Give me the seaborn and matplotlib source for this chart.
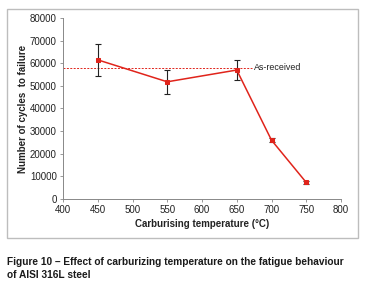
import matplotlib
matplotlib.use("Agg")
import matplotlib.pyplot as plt
from matplotlib.patches import Rectangle
import seaborn as sns
import numpy as np
import pandas as pd

# data
temps = [450, 550, 650, 700, 750]
cycles = [61500, 51800, 57000, 26000, 7300]
errors = [7000, 5300, 4500, 1000, 600]
as_received = 58000
as_received_end = 672

x_ticks = [400, 450, 500, 550, 600, 650, 700, 750, 800]
y_ticks = [0, 10000, 20000, 30000, 40000, 50000, 60000, 70000, 80000]

red = "#e0241b"

sns.set_style("white")
plt.rcParams['font.family'] = ['Liberation Sans', 'DejaVu Sans']

df = pd.DataFrame({"temp": temps, "cycles": cycles})

fig = plt.figure(figsize=(3.69, 3.00), dpi=100)
ax = fig.add_axes([63/369, 1-199/300, (341-63)/369, (199-18)/300])

# grey frame around the chart area
fig.patches.append(Rectangle((7/369, 1-238/300), (358-7)/369, (238-9)/300,
                             transform=fig.transFigure, fill=False,
                             edgecolor="#bdbdbd", linewidth=1.0))

ax.plot([400, as_received_end], [as_received, as_received], color=red,
        linestyle=(0, (2, 1.5)), linewidth=0.7, zorder=1)
ax.text(as_received_end + 3, as_received, "As-received", fontsize=6.4,
        va="center", ha="left", color="#222222")

ax.errorbar(temps, cycles, yerr=errors, fmt="none", ecolor="#222222",
            elinewidth=0.8, capsize=2, capthick=0.8, zorder=2)
sns.lineplot(data=df, x="temp", y="cycles", ax=ax, color=red, linewidth=1.1,
             marker="s", markersize=3, markeredgecolor=red, zorder=3)

ax.set_xlim(400, 800)
ax.set_ylim(0, 80000)
ax.set_xticks(x_ticks)
ax.set_yticks(y_ticks)
ax.tick_params(axis="both", labelsize=7, length=2, width=0.6,
               color="#888888", pad=2.5, labelcolor="#222222")
ax.tick_params(axis="x", direction="out", bottom=True)
ax.tick_params(axis="y", direction="out", left=True)
for s in ["top", "right"]:
    ax.spines[s].set_visible(False)
for s in ["left", "bottom"]:
    ax.spines[s].set_color("#888888")
    ax.spines[s].set_linewidth(0.7)

ax.set_xlabel("Carburising temperature (°C)", fontsize=7, fontweight="bold",
              color="#222222", labelpad=2.5)
ax.set_ylabel("Number of cycles  to failure", fontsize=7, fontweight="bold",
              color="#222222", labelpad=1)

fig.text(7/369, 1-262/300, "Figure 10 – Effect of carburizing temperature on the fatigue behaviour",
         fontsize=7.3, fontweight="bold", va="center", ha="left", color="#1a1a1a")
fig.text(7/369, 1-275/300, "of AISI 316L steel",
         fontsize=7.3, fontweight="bold", va="center", ha="left", color="#1a1a1a")

fig.savefig("out.png", dpi=100)
